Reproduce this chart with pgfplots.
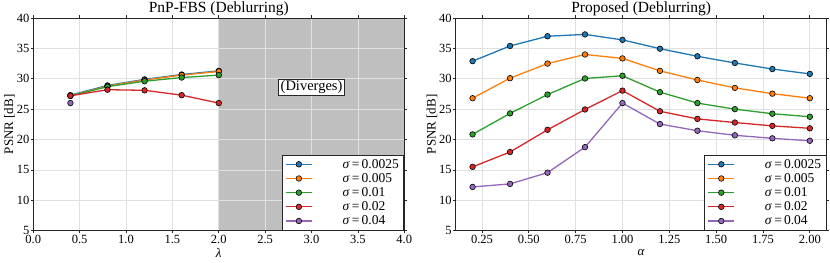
\documentclass[border=0pt]{standalone}
\usepackage{fontspec}
\setmainfont{Liberation Serif}
\usepackage{pgfplots}
\pgfplotsset{compat=1.18}
\definecolor{c0}{HTML}{1F77B4}
\definecolor{c1}{HTML}{FF7F0E}
\definecolor{c2}{HTML}{2CA02C}
\definecolor{c3}{HTML}{D62728}
\definecolor{c4}{HTML}{9467BD}
\pgfplotsset{
  mystyle/.style={
    scale only axis, width=371pt, height=212.7pt,
    set layers=standard,
    ymin=5, ymax=40, ytick={5,10,...,40},
    grid=major, grid style={black!12, line width=0.8pt},
    axis line style={black!85, line width=0.9pt},
    tick style={black!85, line width=0.8pt},
    tick align=outside, major tick length=2.5pt,
    ticklabel style={font=\fontsize{12.5}{13}\selectfont},
    xticklabel style={yshift=1.5pt},
    yticklabel style={xshift=2pt},
    /pgf/number format/assume math mode=true,
    every axis title/.style={at={(0.5,1)}, anchor=base, yshift=5pt, font=\fontsize{15.5}{16}\selectfont},
    every axis y label/.style={at={(axis description cs:-0.064,0.5)}, anchor=center, rotate=90, font=\fontsize{13}{14}\selectfont},
    every axis x label/.style={at={(axis description cs:0.5,-0.103)}, anchor=center, font=\fontsize{13}{14}\selectfont},
    ylabel={PSNR [dB]},
    every axis plot/.append style={line width=1.3pt, mark=*, mark size=2.8pt,
      mark options={draw=black, line width=0.6pt}},
    legend image code/.code={\draw[##1, mark repeat=2, mark phase=2] plot coordinates {(0pt,0pt)(13pt,0pt)(26pt,0pt)};},
    legend style={at={(1,0)}, anchor=south east, draw=black!85, line width=0.9pt,
      fill=white, font=\fontsize{13.5}{15}\selectfont, inner xsep=3pt, inner ysep=2pt,
      row sep=-0.3pt},
    legend cell align=left,
  }
}
\begin{document}
\begin{tikzpicture}
\begin{axis}[mystyle,
  title={PnP-FBS (Deblurring)},
  xmin=0, xmax=4, xtick={0,0.5,...,4},
  xticklabel style={/pgf/number format/.cd, fixed, fixed zerofill, precision=1},
  xlabel={\textit{λ}},
]
\addplot[on layer=axis background, fill=black!25, draw=none, mark=none, forget plot] coordinates {(2,40) (4,40)} \closedcycle;
\addplot[c0] coordinates {(0.4,27.3) (0.8,28.9) (1.2,29.9) (1.6,30.7) (2.0,31.3)};
\addplot[c1] coordinates {(0.4,27.2) (0.8,28.8) (1.2,29.8) (1.6,30.6) (2.0,31.2)};
\addplot[c2] coordinates {(0.4,27.2) (0.8,28.7) (1.2,29.6) (1.6,30.2) (2.0,30.6)};
\addplot[c3] coordinates {(0.4,27.2) (0.8,28.2) (1.2,28.1) (1.6,27.3) (2.0,26.0)};
\addplot[c4] coordinates {(0.4,26.0)};
\node[draw=black!85, fill=white, line width=0.9pt, inner xsep=2pt, inner ysep=1.5pt,
  font=\fontsize{14.5}{15}\selectfont] at (axis cs:3.0,28.57) {(Diverges)};
\legend{\hspace*{28pt}\textit{σ}\,=\,0.0025,\hspace*{28pt}\textit{σ}\,=\,0.005,\hspace*{28pt}\textit{σ}\,=\,0.01,\hspace*{28pt}\textit{σ}\,=\,0.02,\hspace*{28pt}\textit{σ}\,=\,0.04}
\end{axis}
\begin{axis}[mystyle, at={(422.4pt,0pt)},
  title={Proposed (Deblurring)},
  xmin=0.11, xmax=2.09, xtick={0.25,0.5,...,2.0},
  xticklabel style={/pgf/number format/.cd, fixed, fixed zerofill, precision=2},
  xlabel={\textit{α}},
]
\addplot[c0] coordinates {(0.2,32.9) (0.4,35.4) (0.6,37.0) (0.8,37.3) (1.0,36.4) (1.2,34.95) (1.4,33.7) (1.6,32.6) (1.8,31.6) (2.0,30.8)};
\addplot[c1] coordinates {(0.2,26.8) (0.4,30.1) (0.6,32.5) (0.8,34.0) (1.0,33.35) (1.2,31.3) (1.4,29.8) (1.6,28.5) (1.8,27.55) (2.0,26.8)};
\addplot[c2] coordinates {(0.2,20.85) (0.4,24.3) (0.6,27.4) (0.8,30.05) (1.0,30.5) (1.2,27.8) (1.4,26.0) (1.6,25.0) (1.8,24.25) (2.0,23.75)};
\addplot[c3] coordinates {(0.2,15.5) (0.4,17.95) (0.6,21.6) (0.8,24.95) (1.0,28.05) (1.2,24.65) (1.4,23.4) (1.6,22.8) (1.8,22.25) (2.0,21.85)};
\addplot[c4] coordinates {(0.2,12.2) (0.4,12.7) (0.6,14.55) (0.8,18.75) (1.0,26.0) (1.2,22.55) (1.4,21.45) (1.6,20.7) (1.8,20.2) (2.0,19.8)};
\legend{\hspace*{28pt}\textit{σ}\,=\,0.0025,\hspace*{28pt}\textit{σ}\,=\,0.005,\hspace*{28pt}\textit{σ}\,=\,0.01,\hspace*{28pt}\textit{σ}\,=\,0.02,\hspace*{28pt}\textit{σ}\,=\,0.04}
\end{axis}
\pgfresetboundingbox
\path (-33.3pt,-32pt) rectangle (796.7pt,230.7pt);
\end{tikzpicture}
\end{document}
